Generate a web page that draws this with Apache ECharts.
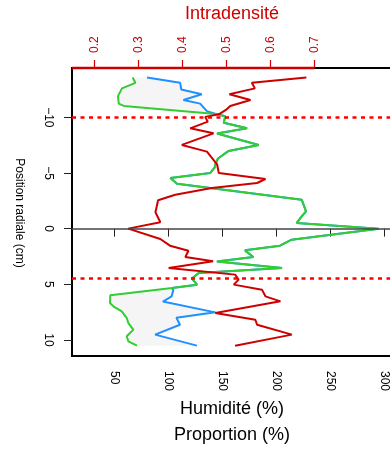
<!DOCTYPE html>
<html>
<head>
<meta charset="utf-8">
<script src="https://cdn.jsdelivr.net/npm/echarts@6/dist/echarts.min.js"></script>
<style>html,body{margin:0;padding:0;background:#fff}#c{width:390px;height:457px}</style>
</head>
<body>
<div id="c"></div>
<script>
// ---- data ----
const positionTicks = [-10, -5, 0, 5, 10];
const humidityTicks = [50, 100, 150, 200, 250, 300];
const densityTicks = [0.2, 0.3, 0.4, 0.5, 0.6, 0.7];
const limitPositions = [-10, 4.5];

// red: [intradensité, position (cm)]
const densityLine = [
  [0.682,-13.57],[0.558,-13.1],[0.565,-12.6],[0.507,-12.07],[0.555,-11.56],[0.509,-11.02],
  [0.499,-10.66],[0.483,-10.27],[0.452,-10.04],[0.458,-9.61],[0.418,-9.01],[0.471,-8.56],
  [0.399,-7.52],[0.456,-6.92],[0.479,-5.78],[0.483,-5.0],[0.589,-4.46],[0.570,-4.1],
  [0.467,-3.65],[0.384,-3.05],[0.345,-2.55],[0.339,-1.47],[0.350,-0.57],[0.277,0],
  [0.350,0.93],[0.372,1.53],[0.414,1.98],[0.407,2.54],[0.470,2.93],[0.369,3.53],
  [0.520,4.13],[0.528,4.58],[0.517,5.03],[0.581,5.48],[0.589,6.08],[0.623,6.53],
  [0.475,7.58],[0.566,8.18],[0.570,8.63],[0.649,9.52],[0.520,10.51]
];

// humidity curves: [humidité (%), position (cm)]
const blueTop = [[80.3,-13.57],[111,-13.1],[112,-12.5],[131,-12.07],[114,-11.56],[129.5,-11.23],[135.7,-10.55]];
const greenTop = [[67,-13.57],[69.5,-13.1],[57.1,-12.6],[53.4,-11.9],[54.1,-11.23],[58.7,-11.02]];
const sharedMiddle = [
  [144,-10.3],[152.8,-10.1],[151.3,-9.52],[172.9,-9.01],[145.1,-8.54],[183.7,-7.52],
  [155.9,-6.98],[146,-6.3],[143.5,-5.78],[143,-5.5],[138.9,-5.0],[101.9,-4.55],[108.1,-4.04],
  [223.5,-2.6],[227.5,-1.56],[223.5,-1.1],[218.9,-0.51],[294.6,0],[214.2,0.99],[203.4,1.53],
  [171,1.95],[178.7,2.54],[145,2.95],[205.3,3.53],[128.1,3.98],[121.9,4.49],[126.6,5.03],[103.4,5.33]
];
const blueBottom = [[104.6,5.54],[103.1,6.08],[95,6.55],[143.5,7.52],[107.5,8.0],[110.8,8.63],[87.8,9.52],[126.5,10.51]];
const greenBottom = [[46.3,5.99],[46,6.68],[49.1,6.98],[56.9,7.43],[61.5,8.03],[63,8.48],[67.6,9.07],[61.5,9.67],[63,10.12],[71,10.51]];

const blueLine = blueTop.concat(sharedMiddle, blueBottom);
const greenLine = greenTop.concat(sharedMiddle, greenBottom);

// ---- axis ranges ----
const yMin = -14.43, yMax = 11.44;
const hMin = 10.83, hMax = 307.1;
const dMin = 0.1493, dMax = 0.8766;

const RED = '#CD0000';
const font = 'Liberation Sans, Arial, Helvetica, sans-serif';

const chart = echarts.init(document.getElementById('c'), null, {renderer: 'canvas'});
const polygon = blueLine.concat(greenLine.slice().reverse());

chart.setOption({
  backgroundColor: '#fff',
  animation: false,
  textStyle: {fontFamily: font},
  grid: {left: 72, top: 68, right: -2, bottom: 101, show: true, borderColor: '#000', borderWidth: 2,
         backgroundColor: 'transparent', containLabel: false, outerBoundsMode: 'none'},
  xAxis: [
    {type: 'value', position: 'bottom', min: hMin, max: hMax,
     axisLine: {show: false}, splitLine: {show: false},
     axisTick: {show: true, length: 8, customValues: humidityTicks, lineStyle: {color: '#222', width: 1}},
     axisLabel: {show: true, customValues: humidityTicks, rotate: -90, margin: 15, color: '#000', fontSize: 12, fontFamily: font}},
    {type: 'value', position: 'top', min: dMin, max: dMax,
     axisLine: {show: false}, splitLine: {show: false},
     axisTick: {show: true, length: 8, customValues: densityTicks, lineStyle: {color: RED, width: 1.2}},
     axisLabel: {show: true, customValues: densityTicks, rotate: -90, margin: 15, color: RED, fontSize: 12, fontFamily: font,
                 formatter: v => Number(v).toFixed(1)}}
  ],
  yAxis: [
    {type: 'value', inverse: true, min: yMin, max: yMax,
     axisLine: {show: false}, splitLine: {show: false},
     axisTick: {show: true, length: 8, customValues: positionTicks, lineStyle: {color: '#222', width: 1}},
     axisLabel: {show: true, customValues: positionTicks, rotate: -90, margin: 18, color: '#000', fontSize: 12, fontFamily: font,
                 formatter: v => String(v).replace('-', '\u2212')}}
  ],
  graphic: [
    {type: 'text', x: 232, y: 14, style: {text: 'Intradensité', fill: RED, font: '18px ' + font, textAlign: 'center', textVerticalAlign: 'middle'}},
    {type: 'text', x: 232, y: 409, style: {text: 'Humidité (%)', fill: '#000', font: '18px ' + font, textAlign: 'center', textVerticalAlign: 'middle'}},
    {type: 'text', x: 232, y: 435, style: {text: 'Proportion (%)', fill: '#000', font: '18px ' + font, textAlign: 'center', textVerticalAlign: 'middle'}},
    {type: 'text', x: 19, y: 213, rotation: -Math.PI / 2, style: {text: 'Position radiale (cm)', fill: '#000', font: '12px ' + font, textAlign: 'center', textVerticalAlign: 'middle'}}
  ],
  series: [
    {type: 'custom', xAxisIndex: 0, yAxisIndex: 0, data: [[hMin, yMin]], silent: true, z: 1,
     renderItem: (params, api) => ({
       type: 'polygon',
       shape: {points: polygon.map(p => api.coord(p))},
       style: {fill: '#F5F5F5', stroke: null}
     })},
    {type: 'line', name: 'blue', xAxisIndex: 0, yAxisIndex: 0, data: blueLine, showSymbol: false, symbol: 'none',
     lineStyle: {color: '#1E90FF', width: 2}, z: 2, silent: true},
    {type: 'line', name: 'green', xAxisIndex: 0, yAxisIndex: 0, data: greenLine, showSymbol: false, symbol: 'none',
     lineStyle: {color: '#32CD32', width: 2}, z: 3, silent: true,
     markLine: {silent: true, symbol: 'none', label: {show: false},
       data: limitPositions.map(p => ({yAxis: p})),
       lineStyle: {color: '#FF0000', width: 2.5, type: [4, 4.5]}}},
    {type: 'line', name: 'red', xAxisIndex: 1, yAxisIndex: 0, data: densityLine, showSymbol: false, symbol: 'none',
     lineStyle: {color: RED, width: 2}, z: 4, silent: true,
     markLine: {silent: true, symbol: 'none', label: {show: false},
       data: [{yAxis: 0}], lineStyle: {color: '#444', width: 1.5, type: 'solid'}}},
    {type: 'line', name: 'topAxis', xAxisIndex: 1, yAxisIndex: 0, clip: false,
     data: [[dMin, yMin], [densityTicks[densityTicks.length - 1], yMin]],
     showSymbol: false, symbol: 'none', lineStyle: {color: RED, width: 2.5}, z: 5, silent: true}
  ]
});
</script>
</body>
</html>
